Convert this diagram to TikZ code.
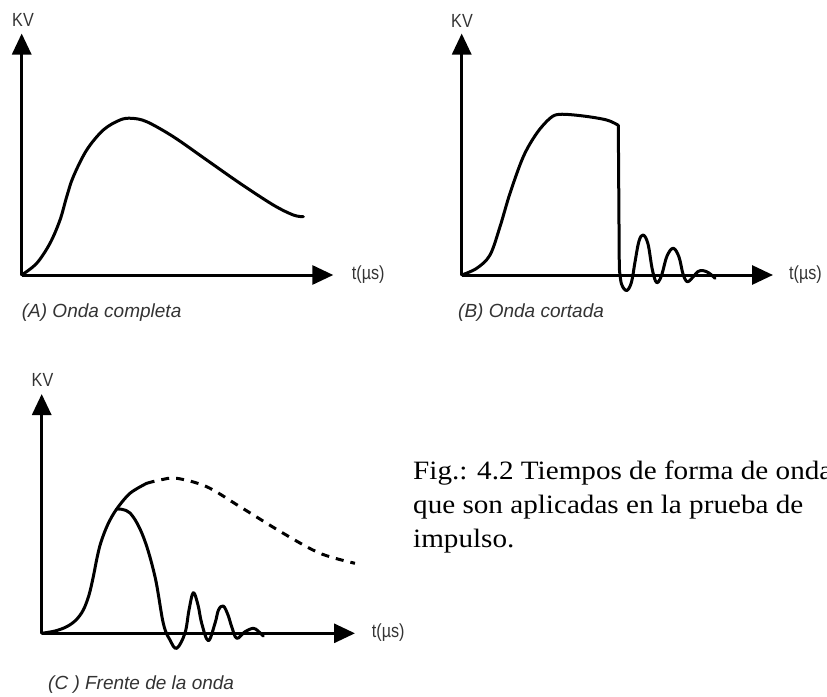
\documentclass[tikz,border=0pt]{standalone}
\usepackage{fontspec}
\setmainfont{Liberation Serif}
\setsansfont{Liberation Sans}
\newfontfamily\narsans[FakeStretch=0.85]{Liberation Sans}
\newfontfamily\capserif[FakeStretch=1.1]{Liberation Serif}
\usetikzlibrary{arrows.meta}
\begin{document}
\begin{tikzpicture}[x=1pt,y=-1pt,
  axis/.style={line width=3pt,-{Triangle[length=21pt,width=19pt]}},
  wave/.style={line width=3pt,line join=round,line cap=round},
  dwave/.style={line width=3pt,dash pattern=on 8pt off 7pt},
  axlabel/.style={font=\narsans\fontsize{19}{21}\selectfont,inner sep=0pt,text=black!80},
  sub/.style={font=\sffamily\itshape\fontsize{19}{21}\selectfont,anchor=west,inner sep=0pt,text=black!80},
  figtext/.style={font=\capserif\fontsize{26.5}{34}\selectfont,anchor=base west,inner sep=0pt}]
\useasboundingbox (0,0) rectangle (827,696);

% ---------- Panel A ----------
\coordinate (Ao) at (21.7,275);
\coordinate (Ay) at (21.7,33.5);
\coordinate (Ax) at (333.3,275);
\draw[axis] (Ao) -- (Ay);
\draw[axis] (Ao) -- (Ax);
\node[axlabel] (Akv) at (23,20) {KV};
\node[axlabel,anchor=west] (At) at (351.7,275) {t(µs)};
\node[sub] (Acap) at (21.7,313) {(A) Onda completa};
\draw[wave] plot[smooth,tension=0.55] coordinates {
 (21.7,275) (36.7,263.3) (50,243.3) (60,220) (66.7,196.7) (73.3,176.7)
 (86.7,150) (103.3,130) (120,120) (131.7,118.3) (146.7,121.7) (173.3,136.7)
 (206.7,160) (240,183.3) (273.3,205) (293.3,215) (303.3,216.7)};

% ---------- Panel B ----------
\coordinate (Bo) at (461.7,275);
\coordinate (By) at (461.7,33.5);
\coordinate (Bx) at (773,275);
\draw[axis] (Bo) -- (By);
\draw[axis] (Bo) -- (Bx);
\node[axlabel] (Bkv) at (462,20.5) {KV};
\node[axlabel,anchor=west] (Bt) at (789,275) {t(µs)};
\node[sub] (Bcap) at (458,313) {(B) Onda cortada};
\draw[wave] plot[smooth,tension=0.55] coordinates {
 (461.7,275) (476.7,268.3) (490,255) (500,226.7) (510,193.3) (523.3,156.7)
 (536.7,133.3) (550,118.3) (560,114.3) (583.3,116) (606.7,120) (618.3,125.3)}
 -- (619.3,268)
 plot[smooth,tension=0.6] coordinates {
 (619.3,268) (621.5,284) (626.7,290.5) (631.5,282) (635,262) (639,241)
 (643.3,235) (648,244) (652,268) (655.5,281) (658.3,282) (662,274)
 (667,256) (673.3,248.3) (679,257) (683,274) (687.3,281.7) (693,277)
 (698,271.5) (703.3,270.7) (709,273) (715,278.3)};

% ---------- Panel C ----------
\coordinate (Co) at (41.7,633.3);
\coordinate (Cy) at (41.7,394);
\coordinate (Cx) at (355,633.3);
\draw[axis] (Co) -- (Cy);
\draw[axis] (Co) -- (Cx);
\node[axlabel] (Ckv) at (42.5,380) {KV};
\node[axlabel,anchor=west] (Ct) at (371.7,633) {t(µs)};
\node[sub] (Ccap) at (48,685) {(C ) Frente de la onda};
\draw[wave] plot[smooth,tension=0.55] coordinates {
 (41.7,633.3) (55,631) (66.7,626.7) (76,620) (83.3,610) (89,595)
 (93.3,576.7) (97,558) (101,542) (108,524) (116.7,509) (130,493.3) (146.7,483.3)};
\draw[dwave] plot[smooth,tension=0.55] coordinates {
 (146.7,483.3) (160,480) (176.7,478.3) (206.7,486.7) (240,506.7)
 (283.3,533.3) (320,553.3) (355,563.3)};
\draw[wave] plot[smooth,tension=0.6] coordinates {
 (116.7,509) (130,513) (143.3,536.7) (155,576.7) (163.3,623.3) (170,640)
 (176.7,648.3) (185,633) (189,610) (193.3,592.7) (198,605) (201.7,623.3)
 (208.3,640.7) (215,623.3) (218.5,610) (223.3,606) (228,615) (231.7,626.7)
 (236.7,638.3) (245,631.7) (253.3,628.3) (258,631) (263.3,636)};

% ---------- Figure caption ----------
\node[figtext] (fig1) at (413,479.3) {Fig.: 4.2 Tiempos de forma de onda};
\node[figtext] (fig2) at (413,513.3) {que son aplicadas en la prueba de};
\node[figtext] (fig3) at (413,547.3) {impulso.};
\end{tikzpicture}
\end{document}
